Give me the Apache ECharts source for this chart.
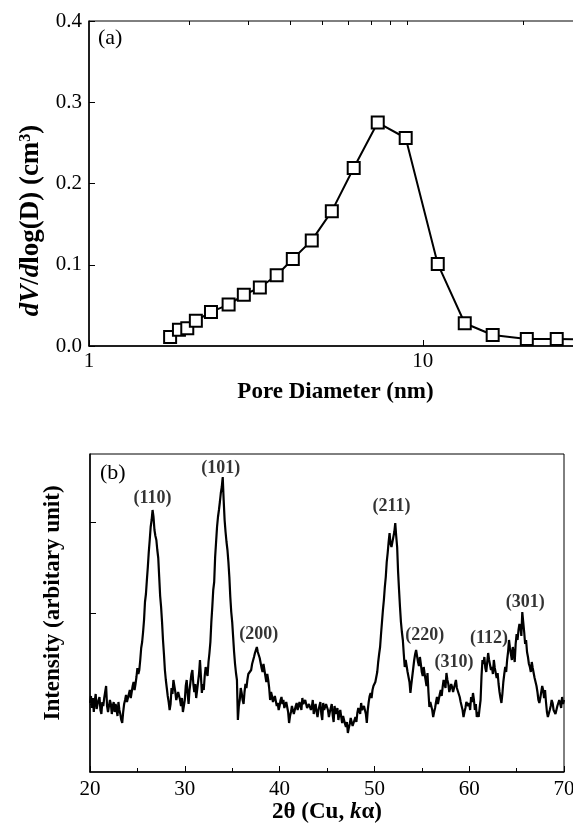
<!DOCTYPE html>
<html lang="en">
<head>
<meta charset="UTF-8">
<title>Pore size distribution and XRD</title>
<style>
  * { margin: 0; padding: 0; box-sizing: border-box; }
  body { background: #fff; }
  #chart { width: 573px; height: 829px; }
</style>
</head>
<body>
<div id="chart"></div>
<script src="https://cdn.jsdelivr.net/npm/echarts@6/dist/echarts.min.js"></script>
<script>
  // (a) pore size distribution
  const poreDiameter = [1.75, 1.86, 1.97, 2.09, 2.32, 2.62, 2.91, 3.25, 3.65, 4.08, 4.65, 5.34, 6.21, 7.33, 8.89, 11.09, 13.36, 16.2, 20.5, 25.2, 30]
  const poreVolume = [0.011, 0.020, 0.022, 0.031, 0.042, 0.051, 0.063, 0.072, 0.087, 0.107, 0.130, 0.166, 0.219, 0.275, 0.256, 0.101, 0.028, 0.0135, 0.0086, 0.0086, 0.008]
  const poreTicks = [1, 10]
  const poreMinorTicks = [2, 3, 4, 5, 6, 7, 8, 9, 20]

  // (b) XRD scan, 20-70 deg, step 0.1 (one row per degree)
  const scanStart = 20
  const scanStep = 0.1
  const intensity = [
    69, 76, 64, 74, 60, 71, 78, 63, 68, 72,           // 20
    75, 62, 58, 70, 66, 74, 80, 86, 66, 60,           // 21
    62, 72, 68, 58, 66, 70, 60, 68, 63, 56,           // 22
    70, 62, 58, 52, 49, 60, 68, 72, 77, 70,           // 23
    72, 78, 82, 74, 80, 86, 90, 82, 88, 95,           // 24
    104, 98, 102, 112, 124, 130, 140, 152, 170, 178,  // 25
    192, 205, 220, 232, 245, 252, 262, 255, 242, 236, // 26
    232, 222, 214, 195, 176, 165, 150, 132, 118, 102, // 27
    92, 84, 76, 70, 62, 68, 84, 78, 92, 86,           // 28
    80, 72, 70, 80, 78, 72, 66, 74, 60, 66,           // 29
    72, 86, 92, 78, 68, 82, 90, 98, 102, 88,          // 30
    80, 88, 74, 82, 90, 98, 112, 96, 79, 88,          // 31
    82, 96, 105, 100, 96, 110, 119, 130, 150, 165,    // 32
    182, 190, 215, 230, 245, 255, 262, 270, 279, 285, // 33
    295, 272, 252, 240, 230, 222, 210, 195, 175, 160, // 34
    150, 135, 120, 108, 99, 92, 52, 66, 72, 84,       // 35
    79, 72, 68, 80, 88, 84, 92, 98, 100, 96,          // 36
    102, 108, 110, 115, 119, 122, 125, 120, 118, 114, // 37
    112, 104, 100, 108, 106, 96, 90, 98, 92, 84,      // 38
    72, 80, 76, 70, 68, 76, 74, 66, 69, 62,           // 39
    66, 72, 75, 68, 72, 64, 62, 70, 70, 60,           // 40
    49, 56, 60, 66, 65, 58, 58, 66, 69, 62,           // 41
    64, 70, 69, 62, 74, 68, 66, 72, 72, 64,           // 42
    63, 68, 70, 62, 65, 72, 58, 64, 68, 60,           // 43
    55, 62, 64, 70, 58, 52, 69, 62, 62, 68,           // 44
    70, 62, 55, 60, 62, 68, 57, 50, 66, 58,           // 45
    59, 64, 52, 58, 62, 55, 49, 56, 55, 48,           // 46
    45, 50, 39, 44, 48, 54, 52, 46, 46, 52,           // 47
    55, 50, 59, 64, 64, 58, 69, 62, 60, 66,           // 48
    66, 58, 49, 62, 70, 76, 79, 74, 82, 86,           // 49
    86, 90, 92, 100, 110, 118, 125, 138, 150, 162,    // 50
    172, 185, 195, 210, 219, 230, 239, 228, 225, 230, // 51
    232, 240, 249, 236, 225, 200, 182, 165, 150, 140, // 52
    132, 118, 105, 112, 110, 100, 99, 90, 79, 88,     // 53
    96, 104, 112, 118, 122, 116, 110, 106, 115, 108,  // 54
    100, 96, 105, 98, 92, 86, 99, 80, 65, 70,         // 55
    72, 62, 55, 60, 64, 70, 75, 68, 70, 78,           // 56
    82, 76, 85, 92, 90, 84, 99, 92, 88, 80,           // 57
    80, 88, 85, 80, 78, 88, 92, 84, 86, 78,           // 58
    75, 70, 69, 62, 55, 60, 64, 70, 72, 66,           // 59
    69, 62, 75, 70, 79, 72, 62, 68, 55, 60,           // 60
    55, 64, 72, 96, 112, 108, 115, 104, 100, 110,     // 61
    119, 112, 110, 102, 105, 98, 112, 104, 99, 94,    // 62
    99, 88, 80, 74, 69, 78, 90, 98, 105, 100,         // 63
    112, 120, 132, 124, 118, 112, 125, 118, 110, 128, // 64
    138, 132, 142, 148, 145, 136, 160, 150, 140, 128, // 65
    132, 120, 115, 108, 105, 100, 110, 104, 99, 94,   // 66
    92, 86, 80, 72, 69, 74, 76, 86, 82, 74,           // 67
    82, 70, 60, 55, 55, 62, 66, 72, 69, 62,           // 68
    64, 58, 59, 66, 66, 72, 70, 64, 75, 68,           // 69
    72                                                // 70
  ]
  const peakNames = ['(110)', '(101)', '(200)', '(211)', '(220)', '(310)', '(112)', '(301)']
  const peakTheta = [26.6, 33.8, 37.8, 51.8, 55.3, 58.4, 62.1, 65.9]
  const peakLevel = [274, 304, 138, 266, 137, 110, 134, 170]
  const intensityTicks = [68, 159, 250]

  const serif = '"Liberation Serif", "DejaVu Serif", serif'

  const poreData = poreDiameter.map((d, i) => [d, poreVolume[i]])
  const xrdData = intensity.map((v, i) => [+(scanStart + i * scanStep).toFixed(1), v])
  const peakData = peakNames.map((n, i) => ({ name: n, value: [peakTheta[i], peakLevel[i]] }))

  const tickLabel = { fontFamily: serif, fontSize: 21, color: '#000' }
  const axisTitle = { fontFamily: serif, fontSize: 23, fontWeight: 'bold', color: '#000' }
  const bigTitle = Object.assign({}, axisTitle, { fontSize: 27 })

  const chart = echarts.init(document.getElementById('chart'))
  chart.setOption({
    animation: false,
    title: [
      { text: '(a)', left: 93, top: 22, textStyle: { fontFamily: serif, fontSize: 22, fontWeight: 'normal', color: '#000' } },
      { text: '(b)', left: 95, top: 457, textStyle: { fontFamily: serif, fontSize: 22, fontWeight: 'normal', color: '#000' } }
    ],
    grid: [
      { left: 89, top: 21, right: -9, bottom: 483, outerBoundsMode: 'none', show: true, borderColor: '#000', borderWidth: 1 },
      { left: 90, top: 454, right: 9, bottom: 57, outerBoundsMode: 'none', show: true, borderColor: '#000', borderWidth: 1 }
    ],
    xAxis: [
      {
        type: 'log', logBase: 10, gridIndex: 0, min: 1, max: 30,
        axisLine: { lineStyle: { color: '#000', width: 1.5 } },
        axisTick: { inside: true, length: 6, customValues: poreTicks, lineStyle: { color: '#000' } },
        axisLabel: Object.assign({ margin: 5, customValues: poreTicks }, tickLabel),
        splitLine: { show: false },
        name: 'Pore Diameter (nm)', nameLocation: 'middle', nameGap: 35,
        nameTextStyle: axisTitle
      },
      {
        type: 'log', logBase: 10, gridIndex: 0, min: 1, max: 30,
        axisLine: { show: false },
        axisTick: { inside: true, length: 4, customValues: poreMinorTicks, lineStyle: { color: '#000' } },
        axisLabel: { show: false },
        splitLine: { show: false }
      },
      {
        type: 'value', gridIndex: 1, min: 20, max: 70, interval: 10,
        axisLine: { lineStyle: { color: '#000', width: 1.5 } },
        axisTick: { inside: true, length: 6, lineStyle: { color: '#000' } },
        minorTick: { show: true, splitNumber: 2, length: 4, lineStyle: { color: '#000' } },
        axisLabel: Object.assign({ margin: 7 }, tickLabel),
        splitLine: { show: false },
        name: '2θ (Cu, {i|k}α)', nameLocation: 'middle', nameGap: 27,
        nameTextStyle: Object.assign({ rich: { i: Object.assign({ fontStyle: 'italic' }, axisTitle) } }, axisTitle)
      }
    ],
    yAxis: [
      {
        type: 'value', gridIndex: 0, min: 0, max: 0.4, interval: 0.1,
        axisLine: { lineStyle: { color: '#000', width: 1.5 } },
        axisTick: { inside: true, length: 6, lineStyle: { color: '#000' } },
        axisLabel: Object.assign({ margin: 7, formatter: v => v.toFixed(1) }, tickLabel),
        splitLine: { show: false },
        name: '{i|dV}{b|/}{i|d}{b|log(D) (cm}{s|3}{b|)}', nameLocation: 'middle', nameGap: 41, nameRotate: 90,
        nameTextStyle: Object.assign({
          padding: [0, 74, 0, 0],
          rich: {
            i: Object.assign({ fontStyle: 'italic' }, bigTitle),
            b: bigTitle,
            s: Object.assign({}, bigTitle, { fontSize: 16, padding: [0, 0, 11, 0] })
          }
        }, bigTitle)
      },
      {
        type: 'value', gridIndex: 1, min: 0, max: 318,
        axisLine: { lineStyle: { color: '#000', width: 1.5 } },
        axisTick: { inside: true, length: 6, customValues: intensityTicks, lineStyle: { color: '#000' } },
        axisLabel: { show: false },
        splitLine: { show: false },
        name: 'Intensity (arbitary unit)', nameLocation: 'middle', nameGap: 25, nameRotate: 90,
        nameTextStyle: Object.assign({ padding: [0, 0, 0, 20] }, axisTitle)
      }
    ],
    series: [
      {
        type: 'line', xAxisIndex: 0, yAxisIndex: 0, data: poreData,
        symbol: 'rect', symbolSize: 12, showAllSymbol: true,
        lineStyle: { color: '#000', width: 2 },
        itemStyle: { color: '#fff', borderColor: '#000', borderWidth: 2 },
        clip: true
      },
      {
        type: 'line', xAxisIndex: 2, yAxisIndex: 1, data: xrdData,
        symbol: 'none', lineStyle: { color: '#000', width: 2.2 }
      },
      {
        type: 'scatter', xAxisIndex: 2, yAxisIndex: 1, data: peakData,
        symbolSize: 0,
        label: {
          show: true, position: 'inside', formatter: p => p.name,
          fontFamily: serif, fontSize: 18, fontWeight: 'bold', color: '#000'
        }
      }
    ]
  })
</script>
</body>
</html>
